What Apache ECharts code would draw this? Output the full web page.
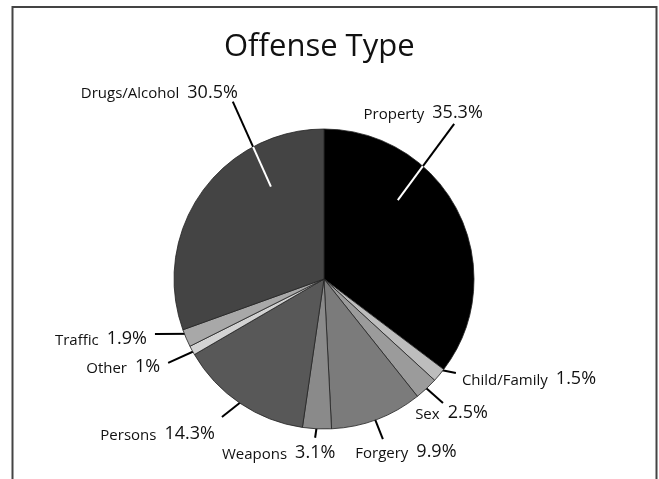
<!DOCTYPE html>
<html><head><meta charset="utf-8">
<script src="https://cdn.jsdelivr.net/npm/echarts@6/dist/echarts.min.js"></script>
<style>html,body{margin:0;padding:0;background:#fff}#c{width:659px;height:479px}</style>
</head><body><div id="c"></div>
<script>
// ---- data ----
const categories = ['Property', 'Child/Family', 'Sex', 'Forgery', 'Weapons', 'Persons', 'Other', 'Traffic', 'Drugs/Alcohol'];
const values = [35.3, 1.5, 2.5, 9.9, 3.1, 14.3, 1, 1.9, 30.5];
const sliceColors = ['#000000', '#bdbdbd', '#9b9b9b', '#7b7b7b', '#8a8a8a', '#585858', '#d2d2d2', '#a8a8a8', '#444444'];
const titleText = 'Offense Type';

// ---- layout (leader lines, polar around pie centre): [innerAngle, innerR, outerAngle, outerR, labelDx, labelDy, align]
const CX = 324, CY = 279, R = 150;
const leaders = [
  [43.1, 0.72, 40.0, 1.35, -31, -13, 'center'],
  [129.0, 0.95, 125.5, 1.08, 6, 4, 'left'],
  [137.3, 0.925, 136.2, 1.146, 8.5, 8, 'center'],
  [160.2, 0.886, 159.8, 1.137, 23, 11, 'center'],
  [182.5, 0.927, 183.2, 1.06, -36.5, 13, 'center'],
  [212.4, 0.908, 216.5, 1.144, -7, 15, 'right'],
  [240.7, 0.94, 241.7, 1.18, -8, 2, 'right'],
  [246.6, 0.92, 252.0, 1.185, -8, 3, 'right'],
  [330.1, 0.71, 332.8, 1.33, 5, -11, 'right']
];
const whiteInside = [true, false, false, false, false, false, false, false, true];

function pt(angDeg, rf) {
  const a = angDeg * Math.PI / 180;
  return [CX + Math.sin(a) * R * rf, CY - Math.cos(a) * R * rf];
}
function edgePoint(a, b) {
  const dx = b[0] - a[0], dy = b[1] - a[1];
  const fx = a[0] - CX, fy = a[1] - CY;
  const A = dx * dx + dy * dy, B = 2 * (fx * dx + fy * dy), C = fx * fx + fy * fy - R * R;
  const t = (-B + Math.sqrt(B * B - 4 * A * C)) / (2 * A);
  return [a[0] + dx * t, a[1] + dy * t];
}

const chart = echarts.init(document.getElementById('c'), null, {renderer: 'canvas'});
const FONT = '"Open Sans", "Noto Sans", sans-serif';

const mainData = categories.map((n, i) => ({name: n, value: values[i], itemStyle: {color: sliceColors[i]}}));
const overlayData = categories.map((n, i) => ({
  name: n, value: values[i],
  label: {show: whiteInside[i]},
  labelLine: {show: whiteInside[i]}
}));

chart.setOption({
  animation: false,
  backgroundColor: '#ffffff',
  title: {
    text: titleText, left: 224, top: 32, padding: 0,
    textStyle: {fontFamily: FONT, fontSize: 31, fontWeight: 'normal', color: '#111'}
  },
  graphic: [{
    type: 'rect', shape: {x: 12.5, y: 7, width: 644, height: 520},
    style: {fill: 'none', stroke: '#444', lineWidth: 2}, silent: true
  }],
  series: [{
    type: 'pie', center: [CX, CY], radius: R, startAngle: 90, clockwise: true,
    data: mainData, silent: true,
    itemStyle: {borderColor: '#222', borderWidth: 0.8},
    emphasis: {disabled: true},
    label: {
      show: true, position: 'outside', overflow: 'none', width: 300,
      formatter: '{n|{b}}{v|{c}%}',
      rich: {
        n: {fontFamily: FONT, fontSize: 15, color: '#111', padding: [0, 8, 0, 0], verticalAlign: 'bottom', lineHeight: 22},
        v: {fontFamily: FONT, fontSize: 18, color: '#111', verticalAlign: 'bottom', lineHeight: 22}
      }
    },
    labelLine: {show: true, lineStyle: {color: '#000', width: 2}},
    labelLayout: function (p) {
      const L = leaders[p.dataIndex];
      const a = pt(L[0], L[1]), b = pt(L[2], L[3]);
      return {x: b[0] + L[4], y: b[1] + L[5], align: L[6], verticalAlign: 'middle', labelLinePoints: [a, b]};
    }
  }, {
    type: 'pie', center: [CX, CY], radius: R, startAngle: 90, clockwise: true, z: 3,
    data: overlayData, silent: true,
    itemStyle: {color: 'rgba(0,0,0,0)', borderWidth: 0},
    emphasis: {disabled: true},
    label: {show: true, position: 'outside', formatter: ' ', color: 'rgba(0,0,0,0)'},
    labelLine: {show: true, lineStyle: {color: '#ffffff', width: 2}},
    labelLayout: function (p) {
      const L = leaders[p.dataIndex];
      const a = pt(L[0], L[1]), b = pt(L[2], L[3]);
      const e = edgePoint(a, b);
      return {x: e[0], y: e[1], labelLinePoints: [a, e]};
    }
  }]
});
</script></body></html>
